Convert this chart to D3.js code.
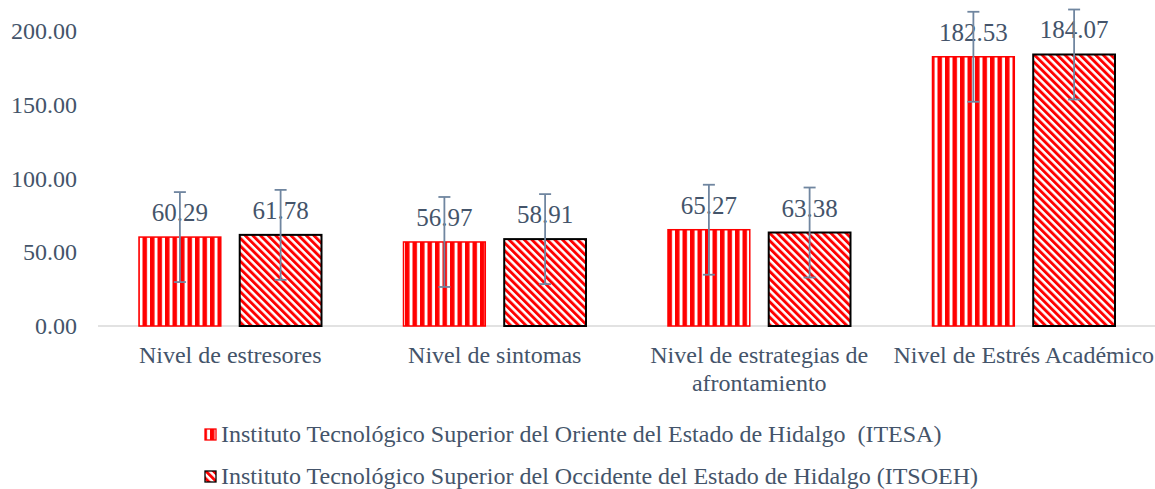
<!DOCTYPE html>
<html>
<head>
<meta charset="utf-8">
<script src="https://cdn.jsdelivr.net/npm/d3@7"></script>
<style>
  body { margin: 0; background: #fff; }
</style>
</head>
<body>
<div id="chart"></div>
<script>
// data
var categories = ["Nivel de estresores", "Nivel de sintomas", "Nivel de estrategias de afrontamiento", "Nivel de Estrés Académico"];
var categoryLines = [["Nivel de estresores"], ["Nivel de sintomas"], ["Nivel de estrategias de", "afrontamiento"], ["Nivel de Estrés Académico"]];
var seriesNames = ["Instituto Tecnológico Superior del Oriente del Estado de Hidalgo  (ITESA)",
                   "Instituto Tecnológico Superior del Occidente del Estado de Hidalgo (ITSOEH)"];
var itesa  = [60.29, 56.97, 65.27, 182.53];
var itsoeh = [61.78, 58.91, 63.38, 184.07];
var itesaErr  = [30.5, 30.5, 30.5, 30.5];
var itsoehErr = [30.5, 30.5, 30.5, 30.5];
var yTicks = [0, 50, 100, 150, 200];

var W = 1155, H = 489;
var FONT = "Liberation Serif";
var textColor = "#44546a";
var errColor = "#7086a0";

var svg = d3.select("#chart").append("svg")
    .attr("width", W)
    .attr("height", H);

// patterns
var defs = svg.append("defs");
var pv = defs.append("pattern")
    .attr("id", "vert")
    .attr("patternUnits", "userSpaceOnUse")
    .attr("width", 7.5).attr("height", 10);
pv.append("rect").attr("width", 7.5).attr("height", 10).attr("fill", "#fff");
pv.append("rect").attr("width", 4.5).attr("height", 10).attr("fill", "#ff0000");

var pd = defs.append("pattern")
    .attr("id", "diag")
    .attr("patternUnits", "userSpaceOnUse")
    .attr("width", 5.4).attr("height", 10)
    .attr("patternTransform", "rotate(-45)");
pd.append("rect").attr("width", 5.4).attr("height", 10).attr("fill", "#fff");
pd.append("rect").attr("width", 2.9).attr("height", 10).attr("fill", "#ff0000");

var x0 = d3.scaleBand()
    .domain(categories)
    .range([98, 1156])
    .paddingInner(0.31)
    .paddingOuter(0.155);

var x1 = d3.scaleBand()
    .domain([0, 1])
    .range([0, x0.bandwidth()])
    .paddingInner(0.188);

var y = d3.scaleLinear()
    .domain([0, 200])
    .range([326, 31]);

// y axis labels
var yAxis = svg.append("g")
    .attr("transform", "translate(77,0)")
    .call(d3.axisLeft(y).tickValues(yTicks).tickSize(0).tickPadding(0).tickFormat(d3.format(".2f")));
yAxis.select(".domain").remove();
yAxis.selectAll("text")
    .attr("fill", textColor)
    .style("font-family", FONT)
    .style("font-size", "24px");

// baseline
svg.append("line")
    .attr("x1", 98).attr("x2", 1155)
    .attr("y1", y(0)).attr("y2", y(0))
    .attr("stroke", "#d9d9d9")
    .attr("stroke-width", 1.3);

var series = [
  { vals: itesa, err: itesaErr, fill: "url(#vert)", stroke: "#ff0000", sw: 1.5 },
  { vals: itsoeh, err: itsoehErr, fill: "url(#diag)", stroke: "#000", sw: 2 }
];

series.forEach(function(s, si) {
  var g = svg.append("g");
  g.selectAll("rect")
    .data(s.vals)
    .enter()
    .append("rect")
    .attr("x", (d, i) => x0(categories[i]) + x1(si))
    .attr("y", d => y(d))
    .attr("width", x1.bandwidth())
    .attr("height", d => y(0) - y(d))
    .attr("fill", s.fill)
    .attr("stroke", s.stroke)
    .attr("stroke-width", s.sw);

  // value labels
  g.selectAll("text.val")
    .data(s.vals)
    .enter()
    .append("text")
    .attr("class", "val")
    .attr("x", (d, i) => x0(categories[i]) + x1(si) + x1.bandwidth() / 2)
    .attr("y", d => y(d) - 16)
    .attr("text-anchor", "middle")
    .attr("fill", textColor)
    .style("font-family", FONT)
    .style("font-size", "25px")
    .text(d => d.toFixed(2));

  // error bars
  s.vals.forEach(function(d, i) {
    var cx = x0(categories[i]) + x1(si) + x1.bandwidth() / 2;
    var eg = g.append("g").attr("stroke", errColor).attr("stroke-width", 1.8);
    eg.append("line").attr("x1", cx).attr("x2", cx).attr("y1", y(d + s.err[i])).attr("y2", y(d - s.err[i]));
    eg.append("line").attr("x1", cx - 6).attr("x2", cx + 6).attr("y1", y(d + s.err[i])).attr("y2", y(d + s.err[i]));
    eg.append("line").attr("x1", cx - 6).attr("x2", cx + 6).attr("y1", y(d - s.err[i])).attr("y2", y(d - s.err[i]));
  });
});

// category labels
categoryLines.forEach(function(lines, i) {
  var cx = x0(categories[i]) + x0.bandwidth() / 2;
  var t = svg.append("text")
    .attr("x", cx)
    .attr("y", 363)
    .attr("text-anchor", "middle")
    .attr("fill", textColor)
    .style("font-family", FONT)
    .style("font-size", "24px");
  lines.forEach(function(l, j) {
    t.append("tspan")
      .attr("x", cx)
      .attr("dy", j === 0 ? 0 : 28)
      .text(l);
  });
});

// legend
var legend = svg.append("g");
seriesNames.forEach(function(name, i) {
  var ly = 434 + i * 42;
  legend.append("rect")
    .attr("x", 205).attr("y", ly - 5)
    .attr("width", 11).attr("height", 11)
    .attr("fill", series[i].fill)
    .attr("stroke", series[i].stroke)
    .attr("stroke-width", 1.3);
  legend.append("text")
    .attr("x", 221).attr("y", ly + 8)
    .attr("fill", textColor)
    .style("font-family", FONT)
    .style("font-size", "24px")
    .style("white-space", "pre")
    .text(name);
});
</script>
</body>
</html>
